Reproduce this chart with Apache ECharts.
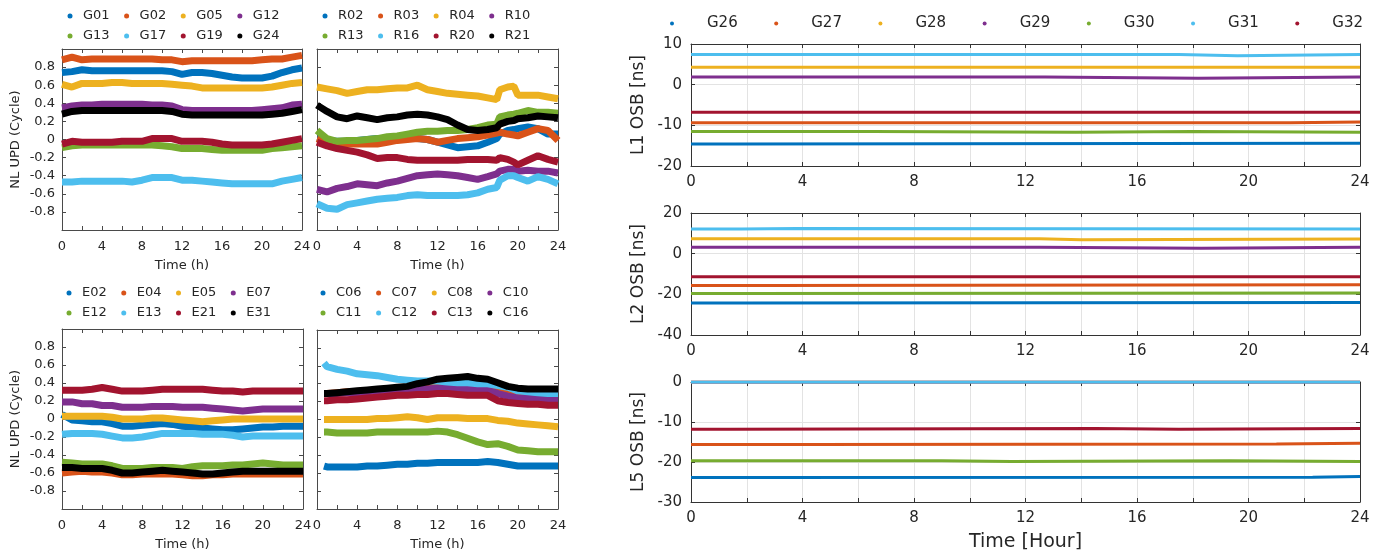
<!DOCTYPE html>
<html><head><meta charset="utf-8">
<script src="https://cdn.jsdelivr.net/npm/echarts@6/dist/echarts.min.js"></script>
<style>html,body{margin:0;padding:0;background:#fff}#c{width:1381px;height:553px}</style>
</head><body><div id="c"></div>
<script>
const COLORS = ['#0072BD','#D95319','#EDB120','#7E2F8E','#77AC30','#4DBEEE','#A2142F','#000000'];
const FONT = 'DejaVu Sans';
const TXT = '#262626';

// ---------- time grids ----------
const tHour = [0,1,2,3,4,5,6,7,8,9,10,11,12,13,14,15,16,17,18,19,20,21,22,23,24];
const tR = [0,1,2,3,4,5,6,7,8,9,10,11,12,13,14,15,16,17,17.9,18.2,19,19.6,20,21,22,23,24];
const tC = [0.7,1,2,3,4,5,6,7,8,9,10,11,12,13,14,15,16,17,18,19,20,21,22,23,24];

// ---------- GPS NL UPD ----------
const namesG = ['G01','G02','G05','G12','G13','G17','G19','G24'];
const G01 = [0.74,0.75,0.77,0.76,0.76,0.76,0.76,0.76,0.76,0.76,0.76,0.75,0.72,0.74,0.74,0.73,0.71,0.69,0.68,0.68,0.68,0.70,0.74,0.77,0.79];
const G02 = [0.88,0.91,0.88,0.89,0.89,0.89,0.89,0.89,0.89,0.89,0.88,0.88,0.86,0.87,0.87,0.87,0.87,0.87,0.87,0.87,0.88,0.89,0.89,0.91,0.93];
const G05 = [0.61,0.58,0.62,0.62,0.62,0.63,0.63,0.62,0.62,0.62,0.62,0.61,0.60,0.59,0.57,0.57,0.57,0.57,0.57,0.57,0.57,0.58,0.60,0.62,0.63];
const G12 = [0.35,0.37,0.38,0.38,0.39,0.39,0.39,0.39,0.39,0.38,0.38,0.37,0.33,0.32,0.32,0.32,0.32,0.32,0.32,0.32,0.33,0.34,0.35,0.38,0.39];
const G13 = [-0.09,-0.07,-0.06,-0.06,-0.06,-0.06,-0.06,-0.06,-0.06,-0.06,-0.07,-0.08,-0.10,-0.10,-0.10,-0.11,-0.12,-0.12,-0.12,-0.12,-0.12,-0.10,-0.09,-0.08,-0.07];
const G17 = [-0.47,-0.47,-0.46,-0.46,-0.46,-0.46,-0.46,-0.47,-0.45,-0.42,-0.42,-0.42,-0.45,-0.45,-0.46,-0.47,-0.48,-0.49,-0.49,-0.49,-0.49,-0.49,-0.46,-0.44,-0.42];
const G19 = [-0.05,-0.02,-0.03,-0.03,-0.03,-0.03,-0.02,-0.02,-0.02,0.01,0.01,0.01,-0.02,-0.02,-0.02,-0.03,-0.05,-0.06,-0.06,-0.06,-0.06,-0.05,-0.03,-0.01,0.01];
const G24 = [0.28,0.31,0.32,0.32,0.32,0.32,0.32,0.32,0.32,0.32,0.32,0.31,0.28,0.27,0.27,0.27,0.27,0.27,0.27,0.27,0.27,0.28,0.29,0.31,0.33];

// ---------- GLONASS NL UPD ----------
const namesR = ['R02','R03','R04','R10','R13','R16','R20','R21'];
const R02 = [0.01,-0.01,-0.02,-0.02,-0.01,0.00,0.01,0.01,0.01,0.01,0.01,0.00,-0.03,-0.06,-0.09,-0.08,-0.07,-0.03,0.01,0.06,0.10,0.11,0.12,0.14,0.12,0.06,0.06];
const R03 = [0.01,-0.03,-0.05,-0.05,-0.05,-0.05,-0.05,-0.03,-0.01,0.00,0.01,0.00,-0.03,-0.01,0.01,0.02,0.03,0.05,0.07,0.08,0.06,0.05,0.04,0.08,0.12,0.10,-0.01];
const R04 = [0.58,0.56,0.54,0.51,0.53,0.55,0.55,0.56,0.57,0.57,0.60,0.55,0.53,0.51,0.50,0.49,0.48,0.46,0.44,0.55,0.58,0.59,0.49,0.49,0.49,0.47,0.45];
const R10 = [-0.55,-0.58,-0.54,-0.52,-0.49,-0.50,-0.51,-0.48,-0.46,-0.43,-0.40,-0.39,-0.38,-0.39,-0.40,-0.42,-0.44,-0.41,-0.38,-0.35,-0.33,-0.33,-0.35,-0.34,-0.35,-0.35,-0.37];
const R13 = [0.10,0.01,-0.02,-0.01,-0.01,0.00,0.01,0.03,0.04,0.06,0.08,0.09,0.09,0.10,0.10,0.11,0.13,0.16,0.17,0.25,0.27,0.28,0.29,0.32,0.30,0.30,0.29];
const R16 = [-0.71,-0.76,-0.77,-0.72,-0.70,-0.68,-0.66,-0.65,-0.64,-0.62,-0.61,-0.62,-0.62,-0.62,-0.62,-0.61,-0.59,-0.55,-0.53,-0.45,-0.40,-0.40,-0.42,-0.46,-0.41,-0.44,-0.49];
const R20 = [-0.03,-0.07,-0.10,-0.12,-0.14,-0.17,-0.21,-0.20,-0.20,-0.22,-0.23,-0.23,-0.23,-0.23,-0.23,-0.22,-0.22,-0.22,-0.23,-0.20,-0.22,-0.25,-0.28,-0.23,-0.18,-0.22,-0.25];
const R21 = [0.38,0.31,0.25,0.23,0.26,0.24,0.22,0.24,0.25,0.27,0.28,0.27,0.25,0.22,0.16,0.11,0.10,0.11,0.13,0.17,0.20,0.21,0.23,0.24,0.26,0.25,0.24];

// ---------- Galileo NL UPD ----------
const namesE = ['E02','E04','E05','E07','E12','E13','E21','E31'];
const E02 = [0.05,-0.01,-0.02,-0.03,-0.03,-0.05,-0.08,-0.08,-0.07,-0.06,-0.05,-0.06,-0.08,-0.09,-0.10,-0.11,-0.12,-0.12,-0.11,-0.10,-0.09,-0.09,-0.08,-0.08,-0.08];
const E04 = [-0.60,-0.59,-0.58,-0.59,-0.59,-0.60,-0.62,-0.62,-0.61,-0.61,-0.61,-0.61,-0.62,-0.63,-0.63,-0.62,-0.62,-0.61,-0.61,-0.61,-0.61,-0.61,-0.61,-0.61,-0.61];
const E05 = [0.03,0.03,0.03,0.03,0.03,0.02,0.00,0.00,0.00,0.01,0.01,0.00,-0.01,-0.02,-0.03,-0.02,-0.01,0.00,0.00,0.00,0.00,0.00,0.00,0.00,0.00];
const E07 = [0.19,0.19,0.17,0.17,0.15,0.15,0.13,0.13,0.13,0.14,0.14,0.14,0.13,0.13,0.13,0.12,0.11,0.10,0.09,0.10,0.11,0.11,0.11,0.11,0.11];
const E12 = [-0.48,-0.49,-0.50,-0.50,-0.50,-0.52,-0.55,-0.55,-0.55,-0.54,-0.54,-0.54,-0.55,-0.53,-0.52,-0.52,-0.52,-0.51,-0.51,-0.50,-0.49,-0.50,-0.51,-0.51,-0.51];
const E13 = [-0.17,-0.16,-0.16,-0.16,-0.17,-0.19,-0.21,-0.21,-0.20,-0.18,-0.16,-0.16,-0.16,-0.16,-0.17,-0.17,-0.17,-0.18,-0.20,-0.19,-0.19,-0.19,-0.19,-0.19,-0.19];
const E21 = [0.32,0.32,0.32,0.33,0.35,0.33,0.31,0.31,0.31,0.32,0.33,0.33,0.33,0.33,0.33,0.32,0.31,0.31,0.30,0.31,0.31,0.31,0.31,0.31,0.31];
const E31 = [-0.54,-0.54,-0.55,-0.55,-0.55,-0.57,-0.60,-0.60,-0.59,-0.58,-0.57,-0.58,-0.59,-0.60,-0.61,-0.61,-0.60,-0.59,-0.58,-0.58,-0.58,-0.58,-0.58,-0.58,-0.58];

// ---------- BDS NL UPD ----------
const namesC = ['C06','C07','C08','C10','C11','C12','C13','C16'];
const C06 = [-0.52,-0.53,-0.53,-0.53,-0.53,-0.52,-0.52,-0.51,-0.50,-0.50,-0.49,-0.49,-0.48,-0.48,-0.48,-0.48,-0.48,-0.47,-0.48,-0.50,-0.52,-0.52,-0.52,-0.52,-0.52];
const C07 = [0.29,0.29,0.30,0.31,0.31,0.32,0.33,0.34,0.35,0.35,0.35,0.36,0.37,0.37,0.36,0.36,0.36,0.35,0.33,0.30,0.28,0.27,0.26,0.25,0.25];
const C08 = [0.00,0.00,0.00,0.00,0.00,0.00,0.01,0.01,0.02,0.03,0.02,0.00,0.02,0.02,0.02,0.01,0.01,0.01,-0.01,-0.02,-0.04,-0.05,-0.06,-0.07,-0.08];
const C10 = [0.29,0.29,0.29,0.30,0.30,0.31,0.32,0.33,0.34,0.34,0.34,0.34,0.35,0.35,0.34,0.34,0.33,0.33,0.29,0.26,0.24,0.24,0.23,0.23,0.23];
const C11 = [-0.14,-0.14,-0.15,-0.15,-0.15,-0.15,-0.14,-0.14,-0.14,-0.14,-0.14,-0.14,-0.13,-0.14,-0.17,-0.21,-0.25,-0.28,-0.27,-0.30,-0.34,-0.35,-0.36,-0.36,-0.36];
const C12 = [0.63,0.59,0.56,0.54,0.51,0.50,0.49,0.47,0.45,0.44,0.43,0.43,0.43,0.42,0.41,0.41,0.40,0.40,0.38,0.36,0.32,0.31,0.30,0.29,0.29];
const C13 = [0.21,0.21,0.22,0.22,0.23,0.24,0.25,0.26,0.27,0.27,0.28,0.28,0.29,0.29,0.28,0.27,0.27,0.27,0.21,0.19,0.18,0.17,0.17,0.16,0.16];
const C16 = [0.29,0.29,0.30,0.31,0.32,0.33,0.34,0.35,0.36,0.37,0.40,0.42,0.45,0.46,0.47,0.48,0.46,0.45,0.41,0.37,0.35,0.34,0.34,0.34,0.34];

// ---------- OSB (ns), breakpoints [hour, value] ----------
const namesOSB = ['G26','G27','G28','G29','G30','G31','G32'];
const L1_G26 = [[0,-14.6],[1.6,-14.4],[24,-14.4]];
const L1_G27 = [[0,-9.35],[21.5,-9.15],[24,-9.15]];
const L1_G28 = [[0,4.3],[24,4.3]];
const L1_G29 = [[0,1.9],[12.7,1.6],[18.2,1.9],[24,1.9]];
const L1_G30 = [[0,-11.5],[6.5,-11.7],[13.8,-11.5],[18,-11.7],[24,-11.7]];
const L1_G31 = [[0,7.4],[17.5,7.1],[19.6,7.4],[24,7.4]];
const L1_G32 = [[0,-6.8],[24,-6.8]];
const L2_G26 = [[0,-24.3],[2.2,-24.0],[24,-24.0]];
const L2_G27 = [[0,-15.6],[2.8,-15.3],[24,-15.3]];
const L2_G28 = [[0,7.3],[12.5,6.8],[14,7.2],[24,7.2]];
const L2_G29 = [[0,3.1],[12.5,2.7],[18.3,3.1],[24,3.1]];
const L2_G30 = [[0,-19.6],[2,-19.3],[24,-19.3]];
const L2_G31 = [[0,12.1],[1.8,12.4],[3.8,12.1],[24,12.1]];
const L2_G32 = [[0,-11.3],[24,-11.3]];
const L5_G26 = [[0,-23.9],[1.7,-23.8],[22.3,-23.6],[24,-23.6]];
const L5_G27 = [[0,-15.6],[4.3,-15.5],[21,-15.3],[24,-15.3]];
const L5_G28 = [[0,0],[24,0]];
const L5_G29 = [[0,0],[24,0]];
const L5_G30 = [[0,-19.7],[9,-19.9],[11.5,-19.7],[19.3,-19.9],[24,-19.9]];
const L5_G31 = [[0,0],[24,0]];
const L5_G32 = [[0,-11.8],[1.4,-11.6],[14.5,-11.8],[17.5,-11.6],[24,-11.6]];

// ---------- build ----------
const grids = [], xAxes = [], yAxes = [], series = [], legends = [];

function addPanel(p) {
  const gi = grids.length;
  grids.push(Object.assign({ containLabel: false }, p.grid));
  const xi = xAxes.length, yi = yAxes.length;
  const line = { onZero: false, lineStyle: { color: p.axisColor, width: 1 } };
  const tick = { show: true, inside: true, length: 4, lineStyle: { color: p.axisColor } };
  xAxes.push({
    gridIndex: gi, type: 'value', position: 'bottom', min: 0, max: 24, interval: 2,
    axisLine: line, axisTick: tick,
    axisLabel: { formatter: v => (v % 4 === 0 ? String(v) : ''), color: TXT, fontFamily: FONT, fontSize: p.xFont, margin: p.xMargin },
    splitLine: { show: p.gridLines, lineStyle: { color: '#e3e3e3', width: 1 } },
    name: p.xName || '', nameLocation: 'middle', nameGap: p.xNameGap || 30,
    nameTextStyle: { color: TXT, fontFamily: FONT, fontSize: p.xNameFont || 13 }
  });
  xAxes.push({
    gridIndex: gi, type: 'value', position: 'top', min: 0, max: 24, interval: 2,
    axisLine: line, axisTick: tick, axisLabel: { show: false }, splitLine: { show: false }
  });
  yAxes.push({
    gridIndex: gi, type: 'value', position: 'left', min: p.yMin, max: p.yMax, interval: p.yInt,
    axisLine: line, axisTick: tick,
    axisLabel: { show: p.showY, formatter: p.yFmt, color: TXT, fontFamily: FONT, fontSize: p.yFont, margin: p.yMargin },
    splitLine: { show: p.gridLines, lineStyle: { color: '#e3e3e3', width: 1 } },
    name: p.yName || '', nameLocation: 'middle', nameGap: p.yNameGap || 40, nameRotate: 90,
    nameTextStyle: { color: TXT, fontFamily: FONT, fontSize: p.yNameFont || 13 }
  });
  yAxes.push({
    gridIndex: gi, type: 'value', position: 'right', min: p.yMin, max: p.yMax, interval: p.yInt,
    axisLine: line, axisTick: tick, axisLabel: { show: false }, splitLine: { show: false }
  });
  p.series.forEach((s, k) => {
    series.push({
      name: s.name, type: 'line', xAxisIndex: xi, yAxisIndex: yi,
      data: s.data, step: p.step || false, showSymbol: false, symbol: 'none',
      color: COLORS[k], lineStyle: { width: p.lw, color: COLORS[k] },
      silent: true, animation: false, clip: true
    });
  });
}

const leftFmt = v => (Math.abs(v) > 0.99 ? '' : String(Math.round(v * 10) / 10));
function pairs(t, vals) { return t.map((x, i) => [x, vals[i]]); }

function leftPanel(grid, t, names, arrs, showY, xName) {
  addPanel({
    grid, axisColor: '#4a4a4a', gridLines: false, xFont: 13, xMargin: 10,
    yMin: -1, yMax: 1, yInt: 0.2, yFmt: leftFmt, showY, yFont: 13, yMargin: 7,
    yName: showY ? 'NL UPD (Cycle)' : '', yNameGap: 40, yNameFont: 13,
    xName, xNameGap: 29, xNameFont: 13, lw: 7,
    series: names.map((n, k) => ({ name: n, data: pairs(t, arrs[k]) }))
  });
}

leftPanel({ left: 62, top: 49, width: 240, height: 181 }, tHour, namesG, [G01,G02,G05,G12,G13,G17,G19,G24], true, 'Time (h)');
leftPanel({ left: 317, top: 49, width: 241, height: 181 }, tR, namesR, [R02,R03,R04,R10,R13,R16,R20,R21], false, 'Time (h)');
leftPanel({ left: 62, top: 329, width: 241, height: 180 }, tHour, namesE, [E02,E04,E05,E07,E12,E13,E21,E31], true, 'Time (h)');
leftPanel({ left: 317, top: 330, width: 241, height: 179 }, tC, namesC, [C06,C07,C08,C10,C11,C12,C13,C16], false, 'Time (h)');

function rightPanel(grid, yMin, yMax, yInt, yName, arrs, xName) {
  addPanel({
    grid, axisColor: '#333333', gridLines: true, xFont: 15, xMargin: 9,
    yMin, yMax, yInt, yFmt: v => String(v), showY: true, yFont: 15, yMargin: 9,
    yName, yNameGap: 44, yNameFont: 17,
    xName, xNameGap: 31, xNameFont: 19, lw: 3, step: 'end',
    series: namesOSB.map((n, k) => ({ name: n, data: arrs[k] }))
  });
}
rightPanel({ left: 691, top: 44, width: 669, height: 122 }, -20, 10, 10, 'L1 OSB [ns]', [L1_G26,L1_G27,L1_G28,L1_G29,L1_G30,L1_G31,L1_G32], '');
rightPanel({ left: 691, top: 213, width: 669, height: 122 }, -40, 20, 20, 'L2 OSB [ns]', [L2_G26,L2_G27,L2_G28,L2_G29,L2_G30,L2_G31,L2_G32], '');
rightPanel({ left: 691, top: 382, width: 669, height: 121 }, -30, 0, 10, 'L5 OSB [ns]', [L5_G26,L5_G27,L5_G28,L5_G29,L5_G30,L5_G31,L5_G32], 'Time [Hour]');

// legends: dot icon, then a fixed-width spacer and a fixed-width name
function makeLegend(left, top, data, dot, pad, nameW, gap, fontSize) {
  legends.push({
    left, top, padding: 0, orient: 'horizontal', icon: 'circle',
    itemWidth: dot, itemHeight: dot, itemGap: gap,
    selectedMode: false, data, itemStyle: { borderWidth: 0 },
    formatter: '{p| }{n|{name}}',
    textStyle: {
      fontFamily: FONT, fontSize, color: TXT,
      rich: {
        p: { width: pad, fontFamily: FONT, fontSize },
        n: { width: nameW, fontFamily: FONT, fontSize, color: TXT }
      }
    }
  });
}
// left legends: dot centres at 70/130/190/250 (+255 for right-hand panels)
makeLegend(67.5, 9.5, namesG.slice(0, 4), 5, 5.5, 30, 14.5, 13);
makeLegend(67.5, 29.5, namesG.slice(4), 5, 5.5, 30, 14.5, 13);
makeLegend(322.5, 9.5, namesR.slice(0, 4), 5, 5.5, 30, 14.5, 13);
makeLegend(322.5, 29.5, namesR.slice(4), 5, 5.5, 30, 14.5, 13);
makeLegend(66.5, 286.5, namesE.slice(0, 4), 5, 5.5, 30, 14.5, 13);
makeLegend(66.5, 306.5, namesE.slice(4), 5, 5.5, 30, 14.5, 13);
makeLegend(320.5, 286.5, namesC.slice(0, 4), 5, 5.5, 30, 14.5, 13);
makeLegend(320.5, 306.5, namesC.slice(4), 5, 5.5, 30, 14.5, 13);
// right legend: dots at 672 + k*106.5, names start 35 px after the dot
makeLegend(670, 16, namesOSB, 4, 28, 33, 36.5, 15);

const chart = echarts.init(document.getElementById('c'), null, { renderer: 'canvas' });
chart.setOption({
  backgroundColor: '#ffffff', animation: false,
  grid: grids, xAxis: xAxes, yAxis: yAxes, legend: legends, series
});
</script></body></html>
